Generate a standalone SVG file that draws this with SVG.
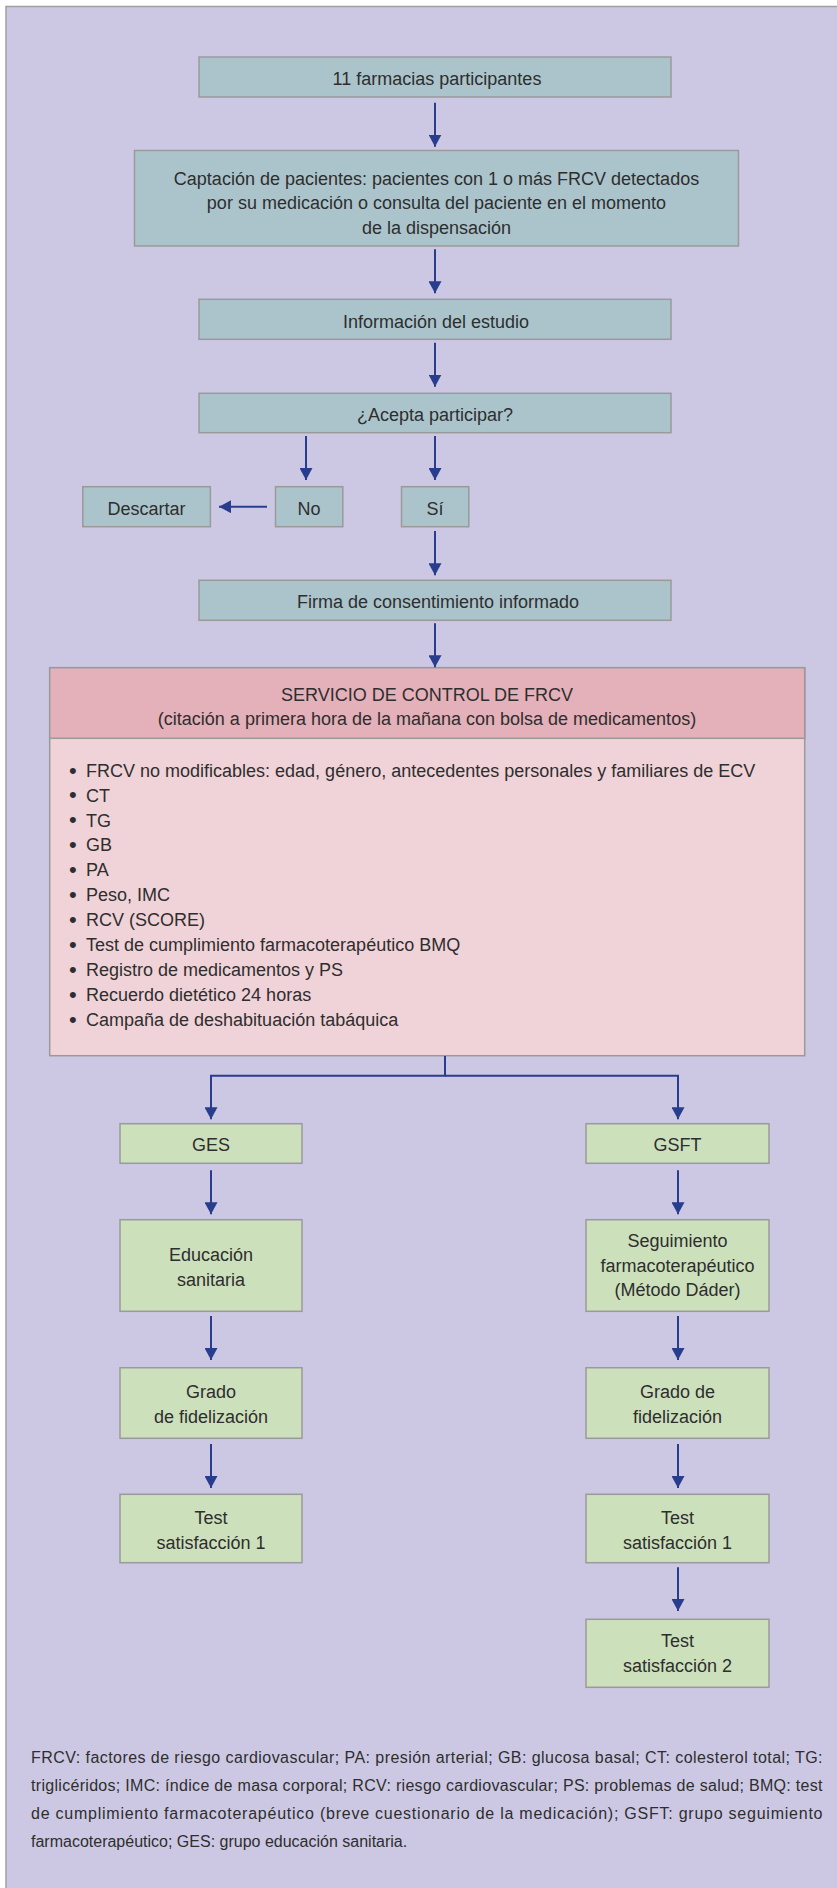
<svg xmlns="http://www.w3.org/2000/svg" width="837" height="1888" viewBox="0 0 837 1888">
<style>
text{font-family:"Liberation Sans",Arial,sans-serif;fill:#2e2e2e;}
.t{font-size:18px;text-anchor:middle;}
.b{font-size:18px;}
.bu{font-size:22px;}
.fn{font-size:16px;}
.blue{fill:#abc4cc;stroke:#9a9a9a;stroke-width:1.5;}
.green{fill:#cde0bc;stroke:#9a9a9a;stroke-width:1.5;}
.ph{fill:#e4b0b9;stroke:#9a9a9a;stroke-width:1.5;}
.pb{fill:#f0d3d8;stroke:#9a9a9a;stroke-width:1.5;}
.c{fill:none;stroke:#293d8f;stroke-width:2;marker-end:url(#ah);}
</style>
<defs>
<marker id="ah" markerUnits="userSpaceOnUse" markerWidth="13" markerHeight="13" refX="12" refY="6.5" orient="auto">
<path d="M0,0 L12,6.5 L0,13 z" fill="#293d8f"/>
</marker>
</defs>
<rect x="0" y="0" width="837" height="1888" fill="#ffffff"/>
<rect id="frame" x="6" y="6.5" width="840" height="1895" fill="#ccc8e4" stroke="#a0a0a0" stroke-width="1.5"/>

<g id="n1"><rect class="blue" x="199" y="57" width="472" height="40"/><text class="t" x="437" y="84.5">11 farmacias participantes</text></g>
<g id="n2"><rect class="blue" x="134.5" y="150.5" width="604" height="95.5"/>
<text class="t" x="436.5" y="185">Captación de pacientes: pacientes con 1 o más FRCV detectados</text>
<text class="t" x="436.5" y="209.3">por su medicación o consulta del paciente en el momento</text>
<text class="t" x="436.5" y="233.6">de la dispensación</text></g>
<g id="n3"><rect class="blue" x="199" y="299.3" width="472" height="40"/><text class="t" x="436" y="328">Información del estudio</text></g>
<g id="n4"><rect class="blue" x="199" y="393.3" width="472" height="39.4"/><text class="t" x="435" y="420.5">¿Acepta participar?</text></g>
<g id="nNo"><rect class="blue" x="275.5" y="486.7" width="67.3" height="40"/><text class="t" x="309" y="514.7">No</text></g>
<g id="nSi"><rect class="blue" x="401.5" y="486.7" width="67.3" height="40"/><text class="t" x="435" y="514.7">Sí</text></g>
<g id="nDesc"><rect class="blue" x="82.8" y="486.7" width="127.6" height="40"/><text class="t" x="146.6" y="514.7">Descartar</text></g>
<g id="nFirma"><rect class="blue" x="199" y="580.3" width="472" height="40"/><text class="t" x="438" y="608">Firma de consentimiento informado</text></g>

<g id="nServicio">
<rect class="pb" x="49.7" y="667.7" width="755" height="388"/>
<rect class="ph" x="49.7" y="667.7" width="755" height="70.6"/>
<text class="t" x="427" y="700.7">SERVICIO DE CONTROL DE FRCV</text>
<text class="t" x="427" y="725">(citación a primera hora de la mañana con bolsa de medicamentos)</text>
<text class="b"><tspan class="bu" x="69" y="777.5">•</tspan><tspan x="86" y="776.7">FRCV no modificables: edad, género, antecedentes personales y familiares de ECV</tspan>
<tspan class="bu" x="69" y="802.4">•</tspan><tspan x="86" y="801.6">CT</tspan>
<tspan class="bu" x="69" y="827.3">•</tspan><tspan x="86" y="826.5">TG</tspan>
<tspan class="bu" x="69" y="852.2">•</tspan><tspan x="86" y="851.4">GB</tspan>
<tspan class="bu" x="69" y="877.1">•</tspan><tspan x="86" y="876.3">PA</tspan>
<tspan class="bu" x="69" y="902">•</tspan><tspan x="86" y="901.2">Peso, IMC</tspan>
<tspan class="bu" x="69" y="926.9">•</tspan><tspan x="86" y="926.1">RCV (SCORE)</tspan>
<tspan class="bu" x="69" y="951.8">•</tspan><tspan x="86" y="951">Test de cumplimiento farmacoterapéutico BMQ</tspan>
<tspan class="bu" x="69" y="976.7">•</tspan><tspan x="86" y="975.9">Registro de medicamentos y PS</tspan>
<tspan class="bu" x="69" y="1001.6">•</tspan><tspan x="86" y="1000.8">Recuerdo dietético 24 horas</tspan>
<tspan class="bu" x="69" y="1026.5">•</tspan><tspan x="86" y="1025.7">Campaña de deshabituación tabáquica</tspan></text>
</g>

<g id="nGES"><rect class="green" x="120" y="1123.7" width="182" height="39.6"/><text class="t" x="211" y="1151">GES</text></g>
<g id="nGSFT"><rect class="green" x="586" y="1123.7" width="183" height="39.6"/><text class="t" x="677.5" y="1151">GSFT</text></g>
<g id="nEdu"><rect class="green" x="120" y="1219.7" width="182" height="91.6"/>
<text class="t" x="211" y="1260.7">Educación</text><text class="t" x="211" y="1285.7">sanitaria</text></g>
<g id="nSeg"><rect class="green" x="586" y="1219.7" width="183" height="91.6"/>
<text class="t" x="677.5" y="1247.3">Seguimiento</text><text class="t" x="677.5" y="1271.7">farmacoterapéutico</text><text class="t" x="677.5" y="1296">(Método Dáder)</text></g>
<g id="nGrado1"><rect class="green" x="120" y="1367.7" width="182" height="70.6"/>
<text class="t" x="211" y="1398.3">Grado</text><text class="t" x="211" y="1423.3">de fidelización</text></g>
<g id="nGrado2"><rect class="green" x="586" y="1367.7" width="183" height="70.6"/>
<text class="t" x="677.5" y="1398.3">Grado de</text><text class="t" x="677.5" y="1423.3">fidelización</text></g>
<g id="nTest1a"><rect class="green" x="120" y="1494.3" width="182" height="68.4"/>
<text class="t" x="211" y="1524">Test</text><text class="t" x="211" y="1549">satisfacción 1</text></g>
<g id="nTest1b"><rect class="green" x="586" y="1494.3" width="183" height="68.4"/>
<text class="t" x="677.5" y="1524">Test</text><text class="t" x="677.5" y="1549">satisfacción 1</text></g>
<g id="nTest2"><rect class="green" x="586" y="1619.3" width="183" height="68"/>
<text class="t" x="677.5" y="1647.3">Test</text><text class="t" x="677.5" y="1672.3">satisfacción 2</text></g>

<g id="connectors">
<path class="c" d="M435,102.7 V146.7"/>
<path class="c" d="M435,249.3 V293.3"/>
<path class="c" d="M435,342.7 V386.7"/>
<path class="c" d="M306,436 V480"/>
<path class="c" d="M435,436 V480"/>
<path class="c" d="M267,506.7 H219"/>
<path class="c" d="M435,531 V575.3"/>
<path class="c" d="M435,623.3 V667.3"/>
<path class="c" d="M445,1056 V1075.7 H211 V1119.3"/>
<path class="c" d="M445,1075.7 H678 V1119.3"/>
<path class="c" d="M211,1170.3 V1214.3"/>
<path class="c" d="M678,1170.3 V1214.3"/>
<path class="c" d="M211,1316 V1360"/>
<path class="c" d="M678,1316 V1360"/>
<path class="c" d="M211,1444 V1488"/>
<path class="c" d="M678,1444 V1488"/>
<path class="c" d="M678,1567.3 V1611"/>
</g>

<g id="footnote">
<text class="fn" x="31" y="1763.3" textLength="791.5" lengthAdjust="spacing">FRCV: factores de riesgo cardiovascular; PA: presión arterial; GB: glucosa basal; CT: colesterol total; TG:</text>
<text class="fn" x="31" y="1791.3" textLength="791.5" lengthAdjust="spacing">triglicéridos; IMC: índice de masa corporal; RCV: riesgo cardiovascular; PS: problemas de salud; BMQ: test</text>
<text class="fn" x="31" y="1819.3" textLength="791.5" lengthAdjust="spacing">de cumplimiento farmacoterapéutico (breve cuestionario de la medicación); GSFT: grupo seguimiento</text>
<text class="fn" x="31" y="1847.3">farmacoterapéutico; GES: grupo educación sanitaria.</text>
</g>
</svg>
